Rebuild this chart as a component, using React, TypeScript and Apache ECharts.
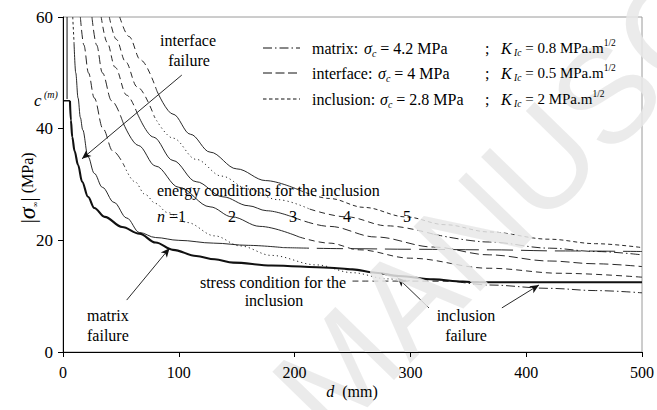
import React, { useEffect, useRef } from "react";
import * as echarts from "echarts";

type Pt = [number, number];

// ---- axes ----
const xRange: Pt = [0, 500];
const yRange: Pt = [0, 60];
const xStep = 100;
const yStep = 20;

// ---- curves: [d (mm), |sigma_inf| (MPa)] ----
// failure envelope (thick)
const envelope: Pt[] = [
  [6, 45], [6.8, 41.5], [8, 38.5], [10, 36], [13, 33.5], [16.5, 30.5], [21.6, 27.8],
  [27, 25.8], [36, 24.2], [51, 22.4], [66, 21.2], [80, 19.6], [95, 18.3], [115, 17.2],
  [131, 16.6], [147, 16.0], [180, 15.5], [230, 15.1], [250, 14.8], [270, 14.2],
  [290, 13.6], [320, 13.0], [345, 12.6], [360, 12.5], [430, 12.5], [500, 12.5],
];
// c(m) level and left branch
const cmLevel: Pt[] = [[0, 45], [6, 45]];
const leftBranch: Pt[] = [[3.5, 60], [3.5, 45.3]];
// matrix energy condition
const matrixEnergy: Pt[] = [
  [8.4, 60], [9.5, 55.5], [11, 50], [13, 45.5], [15, 42], [17, 39.8], [21.6, 35],
  [27, 32], [34, 29.5], [44, 26.8], [55, 24], [66, 21.4], [80, 20.5], [100, 20],
  [130, 19.5], [160, 19.1], [190, 18.7], [250, 18.5], [300, 18.4], [368, 18.3],
  [430, 18.1], [500, 18.0],
];
// inclusion energy conditions, n = 1..5
const inclusionN1: Pt[] = [
  [15, 60], [18, 55], [22, 50], [27, 45.5], [34.5, 40], [43, 36], [53, 33.3], [62, 30.5],
  [71, 28.2], [80, 26.6], [90, 25.0], [107, 23.2], [131, 20.8], [153, 19.0], [180, 17.3],
  [219, 15.6], [250, 14.2], [280, 13.1], [300, 12.75],
];
const inclusionN2: Pt[] = [
  [25, 60], [29, 55], [34, 50], [42, 45], [52, 41], [65, 37], [80, 33.3], [100, 29.5],
  [127, 26], [146, 24.2], [170, 22.5], [204, 20.6], [230, 19.5], [256, 18.3], [300, 16.8],
  [368, 15.0], [430, 14.1], [500, 13.4],
];
const inclusionN3: Pt[] = [
  [33, 60], [38, 55.5], [45, 51], [55, 46], [64, 42.8], [78, 38.5], [95, 34.3], [115, 30.5],
  [138, 27.8], [160, 26.2], [176, 25.3], [198, 24.2], [230, 22.5], [270, 20.6], [320, 18.8],
  [368, 17.4], [420, 16.3], [460, 15.8], [500, 15.3],
];
const inclusionN4: Pt[] = [
  [40, 60], [46, 56], [54, 52], [64, 47.5], [79, 42.1], [95, 38.3], [115, 34.5], [137, 31.5],
  [160, 29.2], [185, 27.3], [213, 25.6], [245, 24.2], [280, 22.6], [320, 21.1], [368, 19.7],
  [420, 18.6], [460, 18.0], [500, 17.4],
];
const inclusionN5: Pt[] = [
  [49, 60], [57, 56.5], [67, 52.3], [81, 46.8], [95, 42.6], [110, 39], [127, 35.8],
  [150, 32.8], [175, 30.7], [204, 29], [230, 27.5], [260, 25.9], [296, 24.2], [330, 22.8],
  [368, 21.5], [420, 20.2], [460, 19.4], [500, 18.7],
];
// stress condition for the inclusion and its matrix continuation
const stressCondition: Pt[] = [[250, 12.7], [300, 12.7], [360, 12.6]];
const matrixTail: Pt[] = [[340, 12.6], [368, 12.0], [420, 11.4], [460, 11.0], [500, 10.6]];

// labels of the energy curves
const nLabels = ["2", "3", "4", "5"];

// ---- arrows [from, to] in data units ----
const arrowInterface: Pt[] = [[102.6, 49.6], [16.4, 34.6]];
const arrowMatrix: Pt[] = [[55, 9.3], [92, 18.6]];
const arrowInclusionA: Pt[] = [[316, 7.9], [289, 13.3]];
const arrowInclusionB: Pt[] = [[379, 7.9], [411, 12.0]];

const INK = "#111";
const SERIF = "'Liberation Serif', 'Times New Roman', Times, Tinos, 'DejaVu Serif', 'Noto Serif', serif";

const DASH: Record<string, any> = {
  solid: "solid",
  longDash: [9, 4],
  dash: [6, 4],
  shortDash: [4, 3],
  fineDash: [2.5, 2.5],
  dot: [1.2, 3],
  dashDot: [9, 3, 1.5, 3],
  wideDash: [26, 8],
};

function segments(points: Pt[], segs: [number, number, string][], width = 0.9) {
  return segs.map(([a, b, key]) => ({
    type: "line",
    data: points.filter((p) => p[0] >= a && p[0] <= b),
    showSymbol: false,
    symbol: "none",
    smooth: 0.35,
    smoothMonotone: "x",
    silent: true,
    lineStyle: { color: INK, width, type: DASH[key] },
    z: 3,
  }));
}

function arrowPair(p: Pt[]) {
  return [{ coord: p[0], symbol: "none" }, { coord: p[1], symbol: "arrow" }];
}

export default function App() {
  const ref = useRef<HTMLDivElement>(null);

  useEffect(() => {
    if (!ref.current) return;
    const chart = echarts.init(ref.current, undefined, { renderer: "svg" });

    const txt = (
      text: string,
      x: number,
      y: number,
      align: string = "left",
      extra: any = {}
    ) => ({
      type: "text",
      x,
      y,
      z: 60,
      silent: true,
      style: {
        text,
        fill: "#000",
        fontFamily: SERIF,
        fontSize: 16,
        align,
        verticalAlign: "middle",
        ...extra,
      },
    });

    const rich = {
      t: { fontFamily: SERIF, fontSize: 16, fill: "#000" },
      i: { fontFamily: SERIF, fontSize: 16, fontStyle: "italic", fill: "#000" },
      sub: { fontFamily: SERIF, fontSize: 10, fontStyle: "italic", verticalAlign: "bottom", fill: "#000" },
      sup: { fontFamily: SERIF, fontSize: 10, verticalAlign: "top", fill: "#000" },
    };
    const richK = {
      t: { fontFamily: SERIF, fontSize: 15, fill: "#000" },
      i: { fontFamily: SERIF, fontSize: 16, fontStyle: "italic", fill: "#000" },
      sub: { fontFamily: SERIF, fontSize: 9.5, fontStyle: "italic", verticalAlign: "bottom", fill: "#000" },
      sup: { fontFamily: SERIF, fontSize: 9.5, verticalAlign: "top", fill: "#000" },
    };

    const legendRows = [
      { y: 48, dash: [9, 3, 1.5, 3], name: "matrix:", sx: 364, sc: "4.2", k: "0.8" },
      { y: 73, dash: [9, 3.5], name: "interface:", sx: 378, sc: "4", k: "0.5" },
      { y: 99, dash: [3.5, 2.5], name: "inclusion:", sx: 380, sc: "2.8", k: "2" },
    ];

    const legendGraphics: any[] = [];
    legendRows.forEach((r) => {
      legendGraphics.push({
        type: "line",
        z: 60,
        silent: true,
        shape: { x1: 263, y1: r.y, x2: 300, y2: r.y },
        style: { stroke: INK, lineWidth: 1, lineDash: r.dash },
      });
      legendGraphics.push(txt(r.name, 312, r.y));
      legendGraphics.push(
        txt(`{i|σ}{sub|c}{t| = ${r.sc} MPa}`, r.sx, r.y, "left", { rich, lineHeight: 20 })
      );
      legendGraphics.push(txt(";", 485, r.y));
      legendGraphics.push(
        txt(`{i|K}{sub| Ic}{t| = ${r.k} MPa.m}{sup|1/2}`, 501, r.y, "left", { rich: richK, lineHeight: 20 })
      );
    });

    const nPos = [232, 293, 347, 407];

    const option: any = {
      animation: false,
      backgroundColor: "#fff",
      textStyle: { fontFamily: SERIF },
      grid: {
        left: 63,
        right: 14,
        top: 17,
        bottom: 58,
        show: true,
        borderColor: "#9a9a9a",
        borderWidth: 1,
        backgroundColor: "transparent",
      },
      xAxis: {
        type: "value",
        min: xRange[0],
        max: xRange[1],
        interval: xStep,
        z: 60,
        axisLine: { show: true, lineStyle: { color: "#000", width: 1 } },
        axisTick: { show: true, inside: false, length: 5, lineStyle: { color: "#000" } },
        splitLine: { show: false },
        axisLabel: { color: "#000", fontFamily: SERIF, fontSize: 16, margin: 12 },
      },
      yAxis: {
        type: "value",
        min: yRange[0],
        max: yRange[1],
        interval: yStep,
        z: 60,
        axisLine: { show: true, lineStyle: { color: "#000", width: 1 } },
        axisTick: { show: true, inside: false, length: 5, lineStyle: { color: "#000" } },
        splitLine: { show: false },
        axisLabel: { color: "#000", fontFamily: SERIF, fontSize: 17, margin: 10 },
      },
      series: [
        ...segments(envelope, [[0, 500, "solid"]], 2.1),
        ...segments(cmLevel, [[0, 6, "solid"]], 1.3),
        {
          type: "line",
          data: leftBranch,
          showSymbol: false,
          silent: true,
          lineStyle: { color: INK, width: 1 },
          z: 3,
        },
        ...segments(matrixEnergy, [
          [8.4, 9.5, "fineDash"],
          [9.5, 190, "solid"],
          [190, 500, "wideDash"],
        ]),
        ...segments(inclusionN1, [
          [15, 53, "longDash"],
          [53, 300, "dot"],
        ]),
        ...segments(inclusionN2, [
          [25, 52, "longDash"],
          [52, 204, "solid"],
          [204, 500, "dash"],
        ]),
        ...segments(inclusionN3, [
          [33, 64, "dash"],
          [64, 198, "solid"],
          [198, 500, "longDash"],
        ]),
        ...segments(inclusionN4, [
          [40, 79, "dash"],
          [79, 213, "dot"],
          [213, 320, "dash"],
          [320, 500, "dashDot"],
        ]),
        ...segments(inclusionN5, [
          [49, 81, "dash"],
          [81, 204, "solid"],
          [204, 500, "shortDash"],
        ]),
        ...segments(stressCondition, [[250, 360, "dash"]]),
        ...segments(matrixTail, [[340, 500, "dashDot"]]),
        {
          type: "line",
          data: [],
          silent: true,
          markLine: {
            silent: true,
            animation: false,
            symbolSize: [6, 9],
            label: { show: false },
            lineStyle: { color: INK, width: 0.9, type: "solid" },
            data: [
              arrowPair(arrowInterface),
              arrowPair(arrowMatrix),
              arrowPair(arrowInclusionA),
              arrowPair(arrowInclusionB),
            ],
          },
        },
      ],
      graphic: [
        // watermark, drawn over the curves but under the texts
        {
          type: "text",
          x: 298,
          y: 412,
          rotation: 0.8,
          z: 40,
          silent: true,
          style: {
            text: "MANUSCRIPT",
            fontFamily: "'Liberation Sans', Arial, sans-serif",
            fontSize: 135,
            fill: "#e8e8e8",
            opacity: 0.85,
            align: "left",
            verticalAlign: "middle",
          },
        },
        // y axis title
        {
          type: "text",
          x: 27,
          y: 188,
          rotation: Math.PI / 2,
          z: 60,
          silent: true,
          style: {
            text: "{b||}{s|σ}{u|∞}{b||}{t| (MPa)}",
            align: "center",
            verticalAlign: "middle",
            rich: {
              b: { fontFamily: SERIF, fontSize: 22, fill: "#000" },
              s: { fontFamily: SERIF, fontSize: 24, fontStyle: "italic", fill: "#000" },
              u: { fontFamily: SERIF, fontSize: 8, verticalAlign: "bottom", fill: "#000" },
              t: { fontFamily: SERIF, fontSize: 16, fill: "#000" },
            },
          },
        },
        // x axis title
        txt("{i|d}{t|  (mm)}", 352, 391, "center", { rich }),
        // c(m) marker
        txt("{i|c}{sup2| (m)}", 34, 100, "left", {
          rich: {
            ...rich,
            i: { fontFamily: SERIF, fontSize: 17, fontStyle: "italic", fill: "#000" },
            sup2: { fontFamily: SERIF, fontSize: 10, fontStyle: "italic", verticalAlign: "top", fill: "#000" },
          },
          lineHeight: 22,
        }),
        ...legendGraphics,
        txt("interface", 188, 40, "center"),
        txt("failure", 189, 60, "center"),
        txt("energy conditions for the inclusion", 157, 190),
        txt("{i|n}{t| =1}", 157, 216, "left", { rich }),
        ...nLabels.map((s, k) => txt(s, nPos[k], 216, "center")),
        txt("stress condition for the", 273, 282, "center"),
        txt("inclusion", 274, 300, "center"),
        txt("matrix", 87, 315),
        txt("failure", 87, 335),
        txt("inclusion", 466, 315, "center"),
        txt("failure", 466, 335, "center"),
      ],
    };

    chart.setOption(option);
    return () => chart.dispose();
  }, []);

  return (
    <div
      ref={ref}
      style={{ position: "fixed", left: 0, top: 0, width: 657, height: 410, background: "#fff" }}
    />
  );
}
